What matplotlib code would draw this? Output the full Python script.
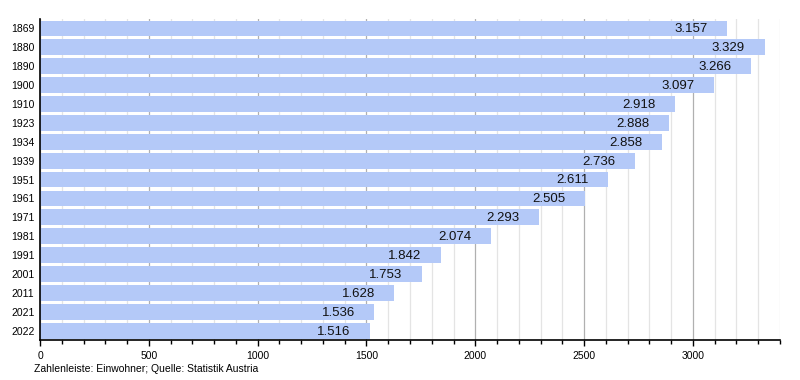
import numpy as np
import matplotlib.pyplot as plt
from matplotlib.ticker import MultipleLocator

plt.rcParams['font.family'] = ['Liberation Sans', 'DejaVu Sans']

years = ['1869', '1880', '1890', '1900', '1910', '1923', '1934', '1939', '1951',
         '1961', '1971', '1981', '1991', '2001', '2011', '2021', '2022']
population = [3157, 3329, 3266, 3097, 2918, 2888, 2858, 2736, 2611,
              2505, 2293, 2074, 1842, 1753, 1628, 1536, 1516]
caption = 'Zahlenleiste: Einwohner; Quelle: Statistik Austria'

bar_color = '#b4c9f8'

fig = plt.figure(figsize=(8, 3.8), dpi=100)
ax = fig.add_axes([0.05, 0.105, 0.925, 0.845])

y_pos = np.arange(len(years))
ax.barh(y_pos, population, height=0.84, color=bar_color, zorder=2)

for y, v in zip(y_pos, population):
    label = f'{v / 1000:.3f}'
    ax.text(v - 90, y + 0.05, label, ha='right', va='center', fontsize=9.5,
            color='#111111', zorder=3)

ax.set_xlim(0, 3400)
ax.set_ylim(len(years) - 0.5, -0.5)
ax.set_yticks(y_pos)
ax.set_yticklabels(years)

ax.xaxis.set_major_locator(MultipleLocator(500))
ax.xaxis.set_minor_locator(MultipleLocator(100))
ax.grid(axis='x', which='major', color='#b0b0b0', linewidth=0.9, zorder=0)
ax.grid(axis='x', which='minor', color='#e4e4e4', linewidth=0.9, zorder=0)
ax.set_axisbelow(True)

ax.tick_params(axis='x', which='major', length=4, width=1, labelsize=7.5, pad=4)
ax.tick_params(axis='x', which='minor', length=3, width=1)
ax.tick_params(axis='y', length=0, labelsize=7.5, pad=4)

for side in ('top', 'right'):
    ax.spines[side].set_visible(False)
ax.spines['left'].set_linewidth(1.2)
ax.spines['bottom'].set_linewidth(1.2)

fig.text(0.043, 0.028, caption, fontsize=7.5, ha='left', va='center')

fig.savefig('out.png', dpi=100)
